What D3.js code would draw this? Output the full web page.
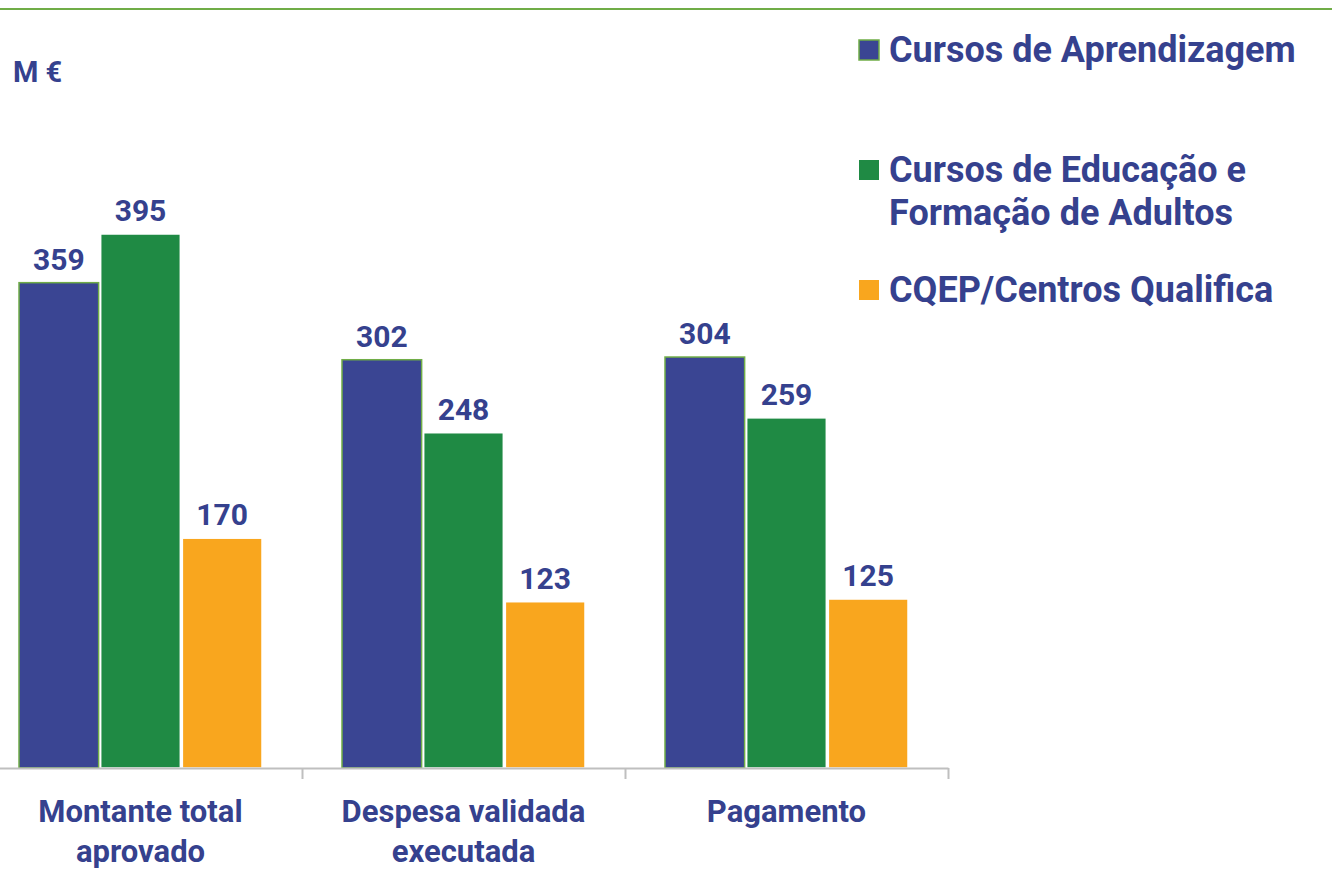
<!DOCTYPE html>
<html>
<head>
<meta charset="utf-8">
<script src="https://cdn.jsdelivr.net/npm/d3@7"></script>
<style>
  body { margin: 0; background: #fff; }
  svg { display: block; font-family: Roboto, "Noto Sans", sans-serif; font-weight: 700; }
</style>
</head>
<body>
<svg></svg>
<script>
let categories = [["Montante total", "aprovado"], ["Despesa validada", "executada"], ["Pagamento"]];
let seriesNames = ["Cursos de Aprendizagem", "Cursos de Educação e Formação de Adultos", "CQEP/Centros Qualifica"];
let legendLines = [["Cursos de Aprendizagem"], ["Cursos de Educação e", "Formação de Adultos"], ["CQEP/Centros Qualifica"]];
let aprendizagem = [359, 302, 304];
let efa = [395, 248, 259];
let qualifica = [170, 123, 125];
let unitLabel = "M €";

let width = 1332;
let height = 875;
let baseY = 768;
let textColor = "#35418e";
let colors = ["#3a4593", "#1f8a44", "#f9a61e"];
let strokes = ["#70ad47", "#ffffff", "#ffffff"];

const svg = d3.select('svg')
              .attr('width', width)
              .attr('height', height);

let series = [aprendizagem, efa, qualifica];
let keys = categories.map((c) => c.join(' '));

let x0 = d3.scaleBand()
           .domain(keys)
           .range([-21, 948])
           .padding(0);

let x1 = d3.scaleBand()
           .domain(seriesNames)
           .range([40, 283])
           .paddingInner(0.025);

let y = d3.scaleLinear()
          .domain([0, 395])
          .range([baseY, 234]);

// green rule on top
svg.append('line')
   .attr('x1', 0).attr('x2', width)
   .attr('y1', 9).attr('y2', 9)
   .attr('stroke', '#70ad47')
   .attr('stroke-width', 2);

svg.append('text')
   .attr('x', 13).attr('y', 82)
   .attr('fill', textColor)
   .attr('font-size', 29)
   .text(unitLabel);

// bars
let groups = svg.selectAll('g.group')
                .data(keys)
                .enter()
                .append('g')
                .attr('class', 'group')
                .attr('transform', (d) => 'translate(' + x0(d) + ',0)');

groups.selectAll('rect')
      .data((d, i) => series.map((s, j) => ({ name: seriesNames[j], value: s[i], j: j })))
      .enter()
      .append('rect')
      .attr('x', (d) => x1(d.name))
      .attr('width', x1.bandwidth())
      .attr('y', (d) => y(d.value))
      .attr('height', (d) => baseY - y(d.value))
      .attr('fill', (d) => colors[d.j])
      .attr('stroke', (d) => strokes[d.j])
      .attr('stroke-width', 1.5);

groups.selectAll('text.val')
      .data((d, i) => series.map((s, j) => ({ name: seriesNames[j], value: s[i] })))
      .enter()
      .append('text')
      .attr('class', 'val')
      .attr('x', (d) => x1(d.name) + x1.bandwidth() / 2)
      .attr('y', (d) => y(d.value) - 13)
      .attr('text-anchor', 'middle')
      .attr('fill', textColor)
      .attr('font-size', 30)
      .text((d) => d.value);

// axis with ticks at band edges
let edgeScale = d3.scaleLinear()
                  .domain([0, keys.length])
                  .range([-21, 948]);

let xAxis = d3.axisBottom(edgeScale)
              .tickValues([1, 2, 3])
              .tickSize(11)
              .tickSizeOuter(0)
              .tickFormat('');

let axisG = svg.append('g')
               .attr('transform', 'translate(0,' + baseY + ')')
               .call(xAxis);
axisG.selectAll('path, line')
     .attr('stroke', '#bfbfbf')
     .attr('stroke-width', 2);

// category labels
svg.selectAll('text.cat')
   .data(categories)
   .enter()
   .append('text')
   .attr('class', 'cat')
   .attr('x', (d, i) => x0(keys[i]) + x0.bandwidth() / 2)
   .attr('y', 822)
   .attr('text-anchor', 'middle')
   .attr('fill', textColor)
   .attr('font-size', 31)
   .selectAll('tspan')
   .data((d) => d)
   .enter()
   .append('tspan')
   .attr('x', function () { return this.parentNode.getAttribute('x'); })
   .attr('dy', (d, i) => i === 0 ? 0 : 40)
   .text((d) => d);

// legend
let legendTop = [40, 160, 280];
let legend = svg.selectAll('g.legend')
                .data(legendLines)
                .enter()
                .append('g')
                .attr('class', 'legend')
                .attr('transform', (d, i) => 'translate(859,' + legendTop[i] + ')');

legend.append('rect')
      .attr('width', 20).attr('height', 20)
      .attr('fill', (d, i) => colors[i])
      .attr('stroke', (d, i) => i === 0 ? '#70ad47' : 'none')
      .attr('stroke-width', 1.5);

legend.append('text')
      .attr('x', 30)
      .attr('y', 22)
      .attr('fill', textColor)
      .attr('font-size', 36)
      .selectAll('tspan')
      .data((d) => d)
      .enter()
      .append('tspan')
      .attr('x', 30)
      .attr('dy', (d, i) => i === 0 ? 0 : 43)
      .text((d) => d);
</script>
</body>
</html>
